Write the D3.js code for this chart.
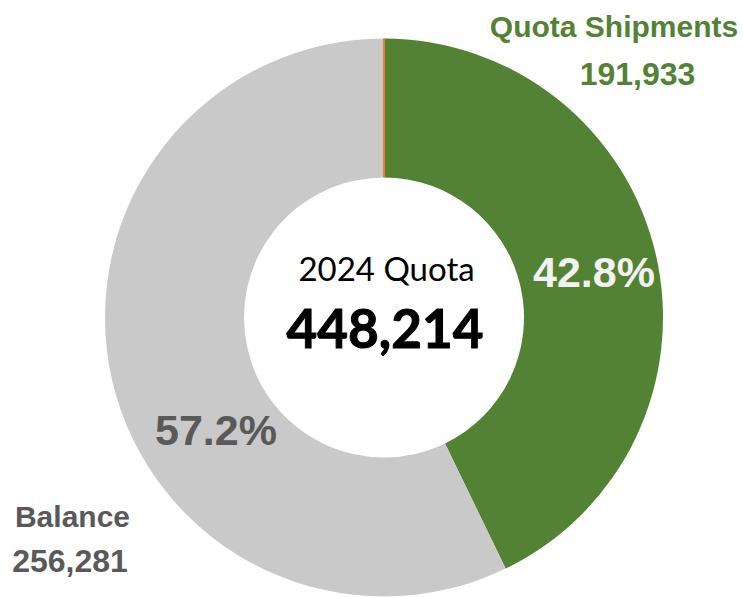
<!DOCTYPE html>
<html>
<head>
<meta charset="utf-8">
<script src="https://cdn.jsdelivr.net/npm/d3@7"></script>
<style>
  html, body { margin: 0; padding: 0; background: #fff; }
  svg { display: block; }
</style>
</head>
<body>
<svg id="chart" width="743" height="598"></svg>
<script>
const categories = ["Quota Shipments", "Balance", "Over Quota"];
const values = [191933, 256281, 0];
const colors = ["#548235", "#c9c9c9", "#ed7d31"];
const centerTitle = "2024 Quota";
const totalQuota = 448214;

const W = 743, H = 598;
const cx = 384, cy = 317.5;
const outerR = 279, innerR = 140;

const svg = d3.select("#chart");
const g = svg.append("g").attr("transform", `translate(${cx},${cy})`);

const pie = d3.pie().sort(null).value(d => d.value);
const data = categories.map((c, i) => ({ name: c, value: values[i], color: colors[i] }));
const arcs = pie(data);
const arc = d3.arc().innerRadius(innerR).outerRadius(outerR);

g.selectAll("path.slice")
  .data(arcs)
  .join("path")
  .attr("class", "slice")
  .attr("d", arc)
  .attr("fill", d => d.data.color)
  .attr("stroke", d => d.data.value === 0 ? d.data.color : "none")
  .attr("stroke-width", 2);

const total = d3.sum(values);
const fmtPct = d3.format(".1%");
const fmtNum = d3.format(",");

// percentage labels
const pctPos = [
  { dx: 594 - cx, dy: 287 - cy, fill: "#f2f2f2" },
  { dx: 216 - cx, dy: 445 - cy, fill: "#595959" }
];
arcs.slice(0, 2).forEach((a, i) => {
  g.append("text")
    .attr("x", pctPos[i].dx)
    .attr("y", pctPos[i].dy)
    .attr("text-anchor", "middle")
    .attr("font-family", "Liberation Sans, Arial, sans-serif")
    .attr("font-weight", "bold")
    .attr("font-size", 43)
    .attr("fill", pctPos[i].fill)
    .text(fmtPct(a.data.value / total));
});

// category labels
const catLabels = [
  { name: { x: 614, y: 37 }, val: { x: 637.5, y: 85 }, fill: "#548235" },
  { name: { x: 72.5, y: 527 }, val: { x: 70, y: 572 }, fill: "#595959" }
];
catLabels.forEach((l, i) => {
  svg.append("text")
    .attr("x", l.name.x).attr("y", l.name.y)
    .attr("text-anchor", "middle")
    .attr("font-family", "Liberation Sans, Arial, sans-serif")
    .attr("font-weight", "bold")
    .attr("font-size", 30)
    .attr("fill", l.fill)
    .text(categories[i]);
  svg.append("text")
    .attr("x", l.val.x).attr("y", l.val.y)
    .attr("text-anchor", "middle")
    .attr("font-family", "Liberation Sans, Arial, sans-serif")
    .attr("font-weight", "bold")
    .attr("font-size", 32)
    .attr("fill", l.fill)
    .text(fmtNum(values[i]));
});

// center text
g.append("text")
  .attr("x", 386.5 - cx).attr("y", 281 - cy)
  .attr("text-anchor", "middle")
  .attr("font-family", "Lato, sans-serif")
  .attr("font-size", 33)
  .attr("fill", "#000")
  .text(centerTitle);
g.append("text")
  .attr("x", 385 - cx).attr("y", 348 - cy)
  .attr("text-anchor", "middle")
  .attr("font-family", "Lato, sans-serif")
  .attr("font-weight", "bold")
  .attr("font-size", 53)
  .attr("fill", "#000")
  .attr("stroke", "#000")
  .attr("stroke-width", 1)
  .text(fmtNum(totalQuota));
</script>
</body>
</html>
